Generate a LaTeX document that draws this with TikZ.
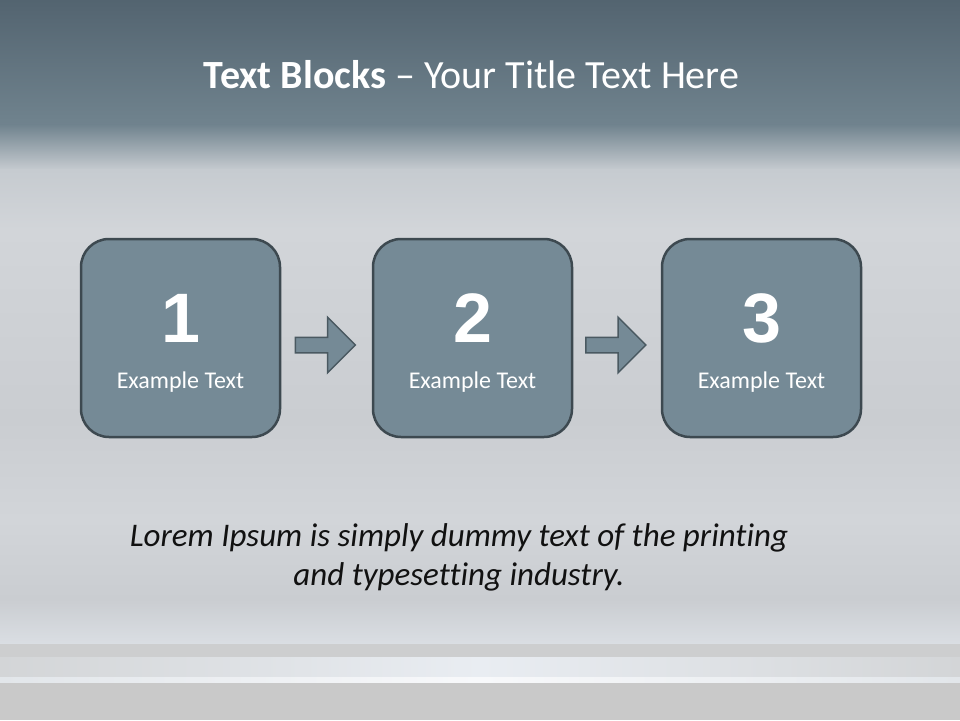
\documentclass[tikz,border=0pt]{standalone}
\usepackage{fontspec}
\setmainfont{Carlito}[Ligatures=NoCommon]
\newfontfamily\numfont{Liberation Sans}
\usetikzlibrary{shapes.arrows,calc}
\definecolor{hdtop}{HTML}{536470}
\definecolor{hdbot}{HTML}{70838E}
\definecolor{bodyA}{HTML}{C6CBD0}
\definecolor{bodyB}{HTML}{D2D5D9}
\definecolor{bodyC}{HTML}{CACDD1}
\definecolor{bandA}{HTML}{DADEE3}
\definecolor{bandG}{HTML}{CDCECF}
\definecolor{bandL}{HTML}{E9EDF2}
\definecolor{bandLe}{HTML}{D3D5D7}
\definecolor{bandW}{HTML}{F8F9FB}
\definecolor{bandWe}{HTML}{E2E6EA}
\definecolor{floorG}{HTML}{C9C9C9}
\definecolor{boxfill}{HTML}{758A96}
\definecolor{boxline}{HTML}{3D4950}
\definecolor{arrline}{HTML}{4A5961}
\definecolor{bodytext}{HTML}{111111}
\tikzset{
  stepbox/.style={draw=boxline, line width=2.5pt, fill=boxfill, rounded corners=28pt,
    minimum width=199pt, minimum height=198pt, inner sep=0pt},
  numtext/.style={text=white, font=\numfont\bfseries\fontsize{70}{70}\selectfont, inner sep=0pt},
  labtext/.style={text=white, font=\fontsize{24}{28}\selectfont, inner sep=0pt},
  flowarrow/.style={single arrow, draw=arrline, line width=1.5pt, fill=boxfill,
    minimum height=60pt, single arrow head extend=20pt, inner ysep=7pt, inner xsep=0pt,
    single arrow tip angle=90}
}
\begin{document}
\begin{tikzpicture}[x=1pt,y=-1pt]
\useasboundingbox (0,0) rectangle (960,720);
% background
\fill[top color=hdtop, bottom color=hdbot] (0,0) rectangle (960,125);
\fill[top color=hdbot, bottom color=bodyA] (0,124.5) rectangle (960,170);
\fill[top color=bodyA, bottom color=bodyB] (0,169.5) rectangle (960,230);
\fill[top color=bodyB, bottom color=bodyC] (0,229.5) rectangle (960,420);
\fill[top color=bodyC, bottom color=bodyB] (0,419.5) rectangle (960,520);
\fill[top color=bodyB, bottom color=bodyC] (0,519.5) rectangle (960,600);
\fill[top color=bodyC, bottom color=bandA] (0,599.5) rectangle (960,644);
\fill[bandG] (0,643.5) rectangle (960,657);
\fill[left color=bandLe, right color=bandLe, middle color=bandL] (0,657) rectangle (960,677);
\fill[left color=bandWe, right color=bandWe, middle color=bandW] (0,677) rectangle (960,683);
\fill[floorG] (0,683) rectangle (960,720);
% title
\node[text=white, font=\fontsize{40}{44}\selectfont, inner sep=0pt] (title) at (471.5,75)
  {\textbf{Text Blocks} – Your Title Text Here};
% boxes
\node[stepbox] (b1) at (180.5,338) {};
\node[stepbox] (b2) at (472.5,338) {};
\node[stepbox] (b3) at (761.5,338) {};
\node[numtext] (n1) at ([yshift=20pt]b1.center) {1};
\node[numtext] (n2) at ([yshift=20pt]b2.center) {2};
\node[numtext] (n3) at ([yshift=20pt]b3.center) {3};
\node[labtext] (t1) at ([yshift=-44pt]b1.center) {Example Text};
\node[labtext] (t2) at ([yshift=-44pt]b2.center) {Example Text};
\node[labtext] (t3) at ([yshift=-44pt]b3.center) {Example Text};
% arrows
\node[flowarrow] (a1) at ([yshift=-7pt,xshift=-5pt]$(b1.east)!0.5!(b2.west)$) {};
\node[flowarrow] (a2) at ([yshift=-7pt,xshift=-5pt]$(b2.east)!0.5!(b3.west)$) {};
% body text
\node[text=bodytext, font=\itshape\fontsize{33}{39}\selectfont,
  align=center, inner sep=0pt] (lorem) at (459,557)
  {Lorem Ipsum is simply dummy text of the printing\\and typesetting industry.};
\end{tikzpicture}
\end{document}
